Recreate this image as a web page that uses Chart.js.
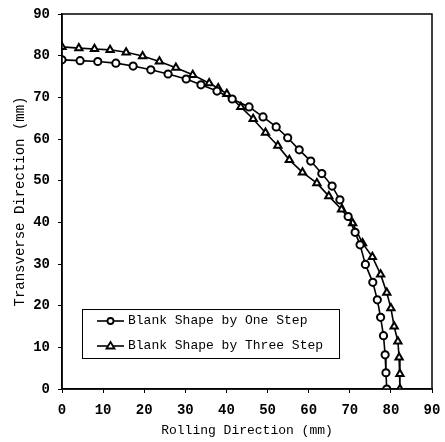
<!DOCTYPE html>
<html><head><meta charset="utf-8">
<script src="https://cdn.jsdelivr.net/npm/chart.js@4/dist/chart.umd.min.js"></script>
<style>html,body{margin:0;padding:0;background:#fff;}#wrap{width:445px;height:442px;}</style>
</head><body><div id="wrap"><canvas id="c" width="445" height="442"></canvas></div>
<script>
const xTicks = [0,10,20,30,40,50,60,70,80,90];
const yTicks = [0,10,20,30,40,50,60,70,80,90];
const oneStepLabel = "Blank Shape by One Step";
const threeStepLabel = "Blank Shape by Three Step";
const oneX = [0,4.4,8.7,13.1,17.3,21.6,25.8,30.2,33.8,37.7,41.4,45.5,48.9,52.1,54.9,57.7,60.5,63.2,65.7,67.6,69.6,71.3,72.5,73.8,75.6,76.7,77.5,78.2,78.6,78.8,79.0];
const oneY = [79.0,78.8,78.6,78.2,77.5,76.6,75.6,74.4,73.0,71.5,69.6,67.7,65.3,62.9,60.3,57.4,54.7,51.7,48.7,45.4,41.4,37.6,34.6,29.9,25.6,21.4,17.2,12.8,8.2,3.9,0];
const threeX = [0,4.1,7.9,11.7,15.6,19.6,23.7,27.7,31.8,35.8,38.0,40.1,43.5,46.5,49.5,52.5,55.3,58.5,62.0,64.9,68.0,70.7,73.1,75.5,77.5,79.0,80.0,80.8,81.7,82.0,82.2,82.2];
const threeY = [82.1,81.8,81.6,81.4,80.8,79.9,78.6,77.1,75.4,73.4,72.2,70.8,67.7,64.8,61.5,58.4,55.0,52.0,49.4,46.3,43.1,39.8,35.0,31.7,27.5,23.1,19.4,15.0,11.4,7.6,3.6,0];

const FONT = "'Liberation Mono', 'DejaVu Sans Mono', monospace";
const toPts = (xs, ys) => xs.map((x, i) => ({x: x, y: ys[i]}));

const frame = {
  id: 'frame',
  afterDraw(chart) {
    const {ctx, chartArea: a} = chart;
    ctx.save();
    ctx.strokeStyle = '#000'; ctx.lineWidth = 1.5;
    ctx.strokeRect(a.left, a.top, a.right - a.left, a.bottom - a.top);
    // legend box
    const bx = 82, by = 309, bw = 257, bh = 49;
    ctx.fillStyle = '#fff'; ctx.fillRect(bx, by, bw, bh);
    ctx.lineWidth = 1; ctx.strokeRect(bx + 0.5, by + 0.5, bw, bh);
    const rows = [{y: 321, ds: chart.data.datasets[0]}, {y: 346, ds: chart.data.datasets[1]}];
    rows.forEach(r => {
      ctx.strokeStyle = '#000'; ctx.lineWidth = 1.6;
      ctx.beginPath(); ctx.moveTo(97, r.y); ctx.lineTo(124, r.y); ctx.stroke();
      ctx.lineWidth = 1.8; ctx.fillStyle = '#fff';
      ctx.beginPath();
      if (r.ds.pointStyle === 'circle') { ctx.arc(110.5, r.y, 3, 0, Math.PI * 2); }
      else { ctx.moveTo(110.5, r.y - 4); ctx.lineTo(114.5, r.y + 2.5); ctx.lineTo(106.5, r.y + 2.5); ctx.closePath(); }
      ctx.fill(); ctx.stroke();
      ctx.fillStyle = '#000'; ctx.font = '13px ' + FONT; ctx.textBaseline = 'middle'; ctx.textAlign = 'left';
      ctx.fillText(r.ds.label, 128, r.y);
    });
    ctx.restore();
  }
};

new Chart(document.getElementById('c'), {
  type: 'scatter',
  data: {
    datasets: [
      {label: oneStepLabel, data: toPts(oneX, oneY), showLine: true, borderColor: '#000', borderWidth: 1.6,
       pointStyle: 'circle', pointRadius: 3.6, pointBorderWidth: 2, pointBackgroundColor: '#fff', pointBorderColor: '#000'},
      {label: threeStepLabel, data: toPts(threeX, threeY), showLine: true, borderColor: '#000', borderWidth: 1.6,
       pointStyle: 'triangle', pointRadius: 4.2, pointBorderWidth: 2, pointBackgroundColor: '#fff', pointBorderColor: '#000'}
    ]
  },
  options: {
    responsive: false, animation: false, devicePixelRatio: 1,
    layout: {padding: {left: 0, right: 13, top: 14, bottom: 0}},
    plugins: {legend: {display: false}, tooltip: {enabled: false}},
    scales: {
      x: {
        type: 'linear', min: 0, max: 90,
        afterBuildTicks(s) { s.ticks = xTicks.map(v => ({value: v})); },
        afterFit(s) { s.height = 53; s.paddingLeft = 0; s.paddingRight = 0; },
        grid: {drawOnChartArea: false, color: '#000', tickLength: 4, tickWidth: 1},
        border: {color: '#000', width: 1.5},
        ticks: {color: '#000', font: {family: FONT, size: 14, weight: 'bold'}, padding: 9, maxRotation: 0},
        title: {display: true, text: 'Rolling Direction (mm)', color: '#000', font: {family: FONT, size: 13}, padding: {top: 0, bottom: 4}}
      },
      y: {
        type: 'linear', min: 0, max: 90,
        afterBuildTicks(s) { s.ticks = yTicks.map(v => ({value: v})); },
        afterFit(s) { s.width = 62; s.paddingTop = 0; s.paddingBottom = 0; },
        grid: {drawOnChartArea: false, color: '#000', tickLength: 4, tickWidth: 1},
        border: {color: '#000', width: 1.5},
        ticks: {color: '#000', font: {family: FONT, size: 14, weight: 'bold'}, padding: 8},
        title: {display: true, text: 'Transverse Direction (mm)', color: '#000', font: {family: FONT, size: 14}, padding: {top: 12, bottom: 2}}
      }
    }
  },
  plugins: [frame]
});
</script></body></html>
